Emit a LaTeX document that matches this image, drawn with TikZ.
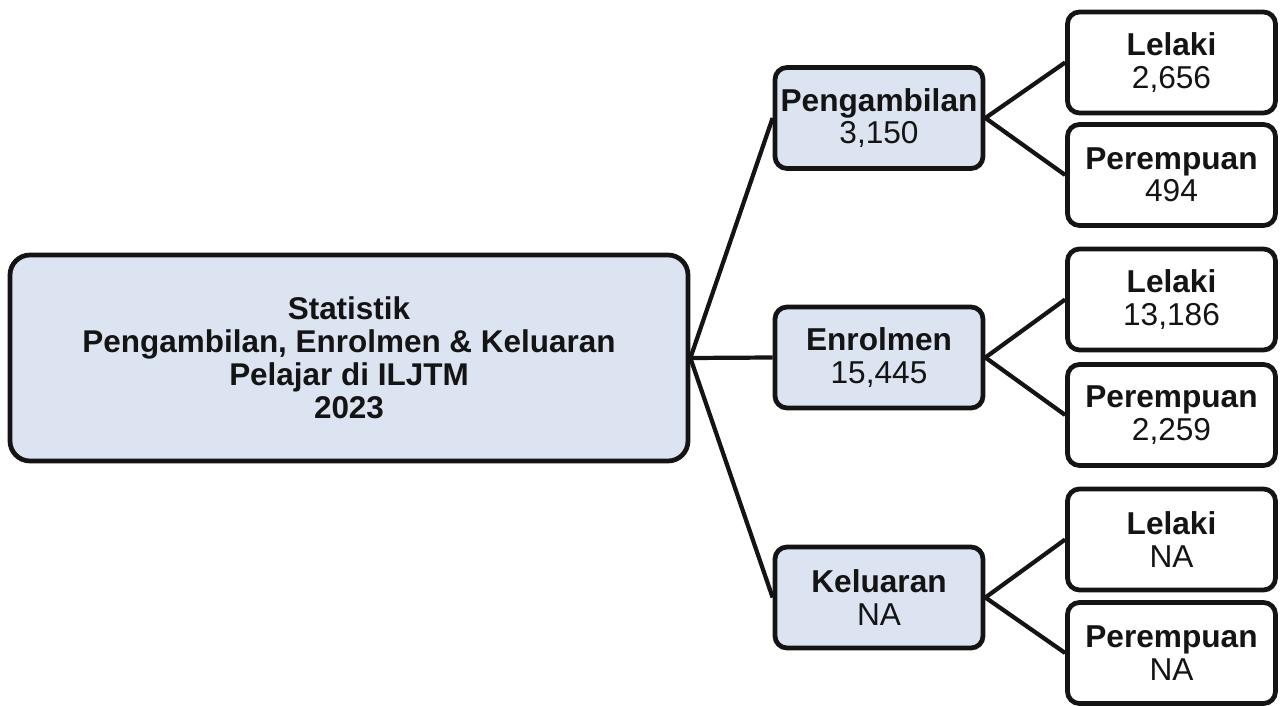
\documentclass[tikz,border=0pt]{standalone}
\usepackage{fontspec}
\setmainfont{Liberation Sans}
\usepackage{tikz}
\usetikzlibrary{positioning}
\definecolor{BoxBlue}{RGB}{220,228,241}
\definecolor{InkCol}{RGB}{20,20,20}

\begin{document}
\begin{tikzpicture}[
  rootbox/.style={rectangle, draw=InkCol, fill=BoxBlue, line width=2.7pt,
                  rounded corners=0.4cm, minimum width=13.56cm,
                  minimum height=4.12cm, align=center, text=InkCol,
                  font=\fontsize{17.9}{18.8}\selectfont},
  midbox/.style={rectangle, draw=InkCol, fill=BoxBlue, line width=2.7pt,
                 rounded corners=0.24cm, minimum width=4.16cm,
                 minimum height=2.02cm, inner sep=1pt, align=center,
                 text=InkCol, font=\fontsize{18}{18.4}\selectfont},
  leafbox/.style={midbox, fill=white},
  link/.style={line width=2.4pt, InkCol, line join=round},
]
\useasboundingbox (0,0) rectangle (25.66,-14.12);

\node[rootbox] (root) at (6.98,-7.16)
  {\textbf{Statistik}\\ \textbf{Pengambilan, Enrolmen \& Keluaran}\\
   \textbf{Pelajar di ILJTM}\\ \textbf{2023}};

\node[midbox] (peng)  at (17.58,-2.36)  {\textbf{Pengambilan}\\ 3,150};
\node[midbox] (enrol) at (17.58,-7.15)  {\textbf{Enrolmen}\\ 15,445};
\node[midbox] (kel)   at (17.58,-11.95) {\textbf{Keluaran}\\ NA};

\node[leafbox] (pengL)  at (23.43,-1.25)  {\textbf{Lelaki}\\ 2,656};
\node[leafbox] (pengP)  at (23.43,-3.50)  {\textbf{Perempuan}\\ 494};
\node[leafbox] (enrolL) at (23.43,-5.99)  {\textbf{Lelaki}\\ 13,186};
\node[leafbox] (enrolP) at (23.43,-8.30)  {\textbf{Perempuan}\\ 2,259};
\node[leafbox] (kelL)   at (23.43,-10.79) {\textbf{Lelaki}\\ NA};
\node[leafbox] (kelP)   at (23.43,-13.06) {\textbf{Perempuan}\\ NA};

\draw[link] (root.east) -- (peng.west);
\draw[link] (root.east) -- (enrol.west);
\draw[link] (root.east) -- (kel.west);
\draw[link] (peng.east) -- (pengL.west);
\draw[link] (peng.east) -- (pengP.west);
\draw[link] (enrol.east) -- (enrolL.west);
\draw[link] (enrol.east) -- (enrolP.west);
\draw[link] (kel.east) -- (kelL.west);
\draw[link] (kel.east) -- (kelP.west);
\end{tikzpicture}
\end{document}
